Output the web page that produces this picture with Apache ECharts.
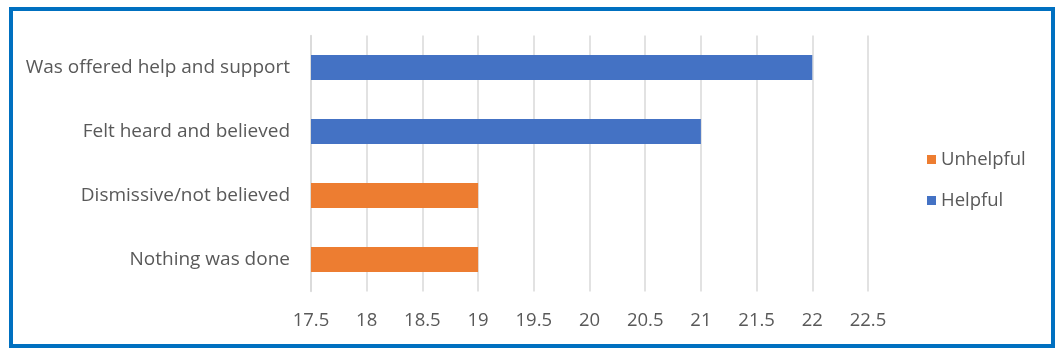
<!DOCTYPE html>
<html>
<head>
<meta charset="utf-8">
<script src="https://cdn.jsdelivr.net/npm/echarts@6/dist/echarts.min.js"></script>
<style>
html,body{margin:0;padding:0;background:#fff;}
#chart{width:1057px;height:355px;}
</style>
</head>
<body>
<div id="chart"></div>
<script>
const categories = ['Was offered help and support', 'Felt heard and believed', 'Dismissive/not believed', 'Nothing was done'];
const helpful = [22, 21, '-', '-'];
const unhelpful = ['-', '-', 19, 19];
const xTicks = { min: 17.5, max: 22.5, interval: 0.5 };

const chart = echarts.init(document.getElementById('chart'));
const font = '"Open Sans", sans-serif';
chart.setOption({
  animation: false,
  backgroundColor: '#fff',
  textStyle: { fontFamily: font },
  graphic: [{
    type: 'rect',
    shape: { x: 11, y: 9, width: 1042, height: 337 },
    style: { fill: 'none', stroke: '#0070c0', lineWidth: 4 },
    silent: true
  }],
  grid: { left: 311, right: 189, top: 35.5, bottom: 63.5, containLabel: false },
  legend: {
    orient: 'vertical',
    left: 922,
    top: 145,
    itemWidth: 9,
    itemHeight: 9,
    itemGap: 22,
    icon: 'rect',
    data: ['Unhelpful', 'Helpful'],
    textStyle: { fontFamily: font, fontSize: 18.5, color: '#595959' }
  },
  xAxis: {
    type: 'value',
    min: xTicks.min,
    max: xTicks.max,
    interval: xTicks.interval,
    axisLine: { show: false },
    axisTick: { show: false },
    splitLine: { show: true, lineStyle: { color: '#d9d9d9', width: 1.5 } },
    axisLabel: {
      fontFamily: font, fontSize: 18.5, color: '#595959', margin: 20,
      formatter: v => String(v)
    }
  },
  yAxis: {
    type: 'category',
    data: categories,
    inverse: true,
    axisLine: { show: true, lineStyle: { color: '#d9d9d9', width: 1.5 } },
    axisTick: { show: false },
    axisLabel: { fontFamily: font, fontSize: 19, color: '#595959', margin: 21 }
  },
  series: [
    { name: 'Helpful', type: 'bar', stack: 's', data: helpful, barWidth: 25, itemStyle: { color: '#4472c4' } },
    { name: 'Unhelpful', type: 'bar', stack: 's', data: unhelpful, barWidth: 25, itemStyle: { color: '#ed7d31' } }
  ]
});
</script>
</body>
</html>
